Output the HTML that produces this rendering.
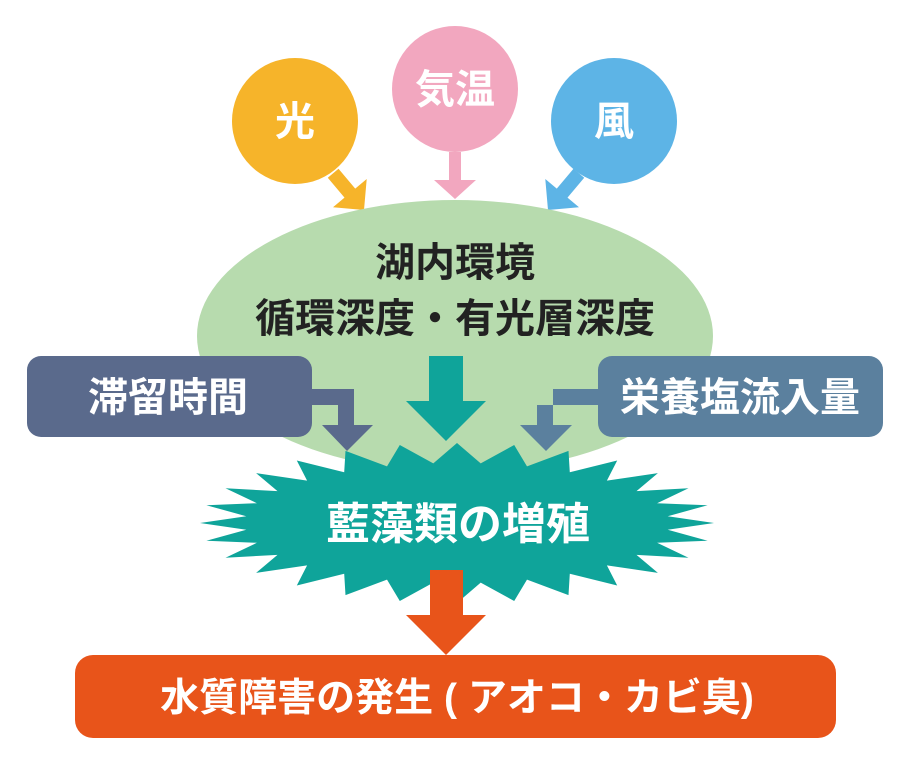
<!DOCTYPE html>
<html><head><meta charset="utf-8"><style>
html,body{margin:0;padding:0;background:#fff}
svg text{font-family:"Liberation Sans","Noto Sans CJK JP",sans-serif;font-weight:bold;fill:#fff}
</style></head><body>
<svg width="909" height="768" viewBox="0 0 909 768" xmlns="http://www.w3.org/2000/svg">
<circle cx="295" cy="121" r="63" fill="#f6b42a"/>
<circle cx="455" cy="89" r="63" fill="#f2a7bf"/>
<circle cx="614" cy="121" r="63" fill="#5db4e6"/>
<polygon points="449,152 461,152 461,180 476,180 455,199 434,180 449,180" fill="#f2a7bf"/>
<g transform="translate(364,210) rotate(-40)">
<polygon points="0,0 -22,-22 -7,-22 -7,-48 7,-48 7,-22 22,-22" fill="#f6b42a"/></g>
<g transform="translate(548,210) rotate(40)">
<polygon points="0,0 -22,-22 -7,-22 -7,-48 7,-48 7,-22 22,-22" fill="#5db4e6"/></g>
<text x="295" y="135" font-size="40" text-anchor="middle">光</text>
<text x="455" y="103" font-size="40" text-anchor="middle">気温</text>
<text x="614" y="135" font-size="40" text-anchor="middle">風</text>
<ellipse cx="455" cy="336" rx="258" ry="136" fill="#b7dbae"/>
<text x="455" y="276" font-size="40" text-anchor="middle" style="fill:#222">湖内環境</text>
<text x="455" y="332" font-size="40" text-anchor="middle" style="fill:#222">循環深度・有光層深度</text>
<rect x="27" y="356" width="285" height="81" rx="14" fill="#5a6a8c"/>
<rect x="598" y="356" width="285" height="81" rx="14" fill="#5b809e"/>
<text x="168" y="411" font-size="40" text-anchor="middle">滞留時間</text>
<text x="740" y="411" font-size="40" text-anchor="middle">栄養塩流入量</text>
<polygon points="312,389 354,389 354,425 373,425 347,451 322,425 338,425 338,405 312,405" fill="#5a6a8c"/>
<polygon points="598,389 553,389 553,425 572,425 546,451 520,425 537,425 537,405 598,405" fill="#5b809e"/>
<polygon points="429,356 463,356 463,401 486,401 446,441 406,401 429,401" fill="#0fa49a"/>
<polygon id="star" fill="#0fa49a" points=""/>
<text x="458" y="539" font-size="44" text-anchor="middle">藍藻類の増殖</text>
<polygon points="430,570 463,570 463,615 486,615 446,655 406,615 430,615" fill="#e8541a"/>
<rect x="75" y="655" width="761" height="83" rx="18" fill="#e8541a"/>
<text x="457" y="711" font-size="39" text-anchor="middle">水質障害の発生 ( アオコ・カビ臭)</text>
</svg>
<script>
(function(){var cx=457,cy=523,n=28,p=[];for(var i=0;i<2*n;i++){var a=Math.PI*i/n;var o=i%2==0;var rx=o?257:212,ry=o?80:60;p.push((cx+rx*Math.cos(a)).toFixed(1)+","+(cy+ry*Math.sin(a)).toFixed(1));}
document.getElementById("star").setAttribute("points",p.join(" "));})();
</script>
</body></html>
